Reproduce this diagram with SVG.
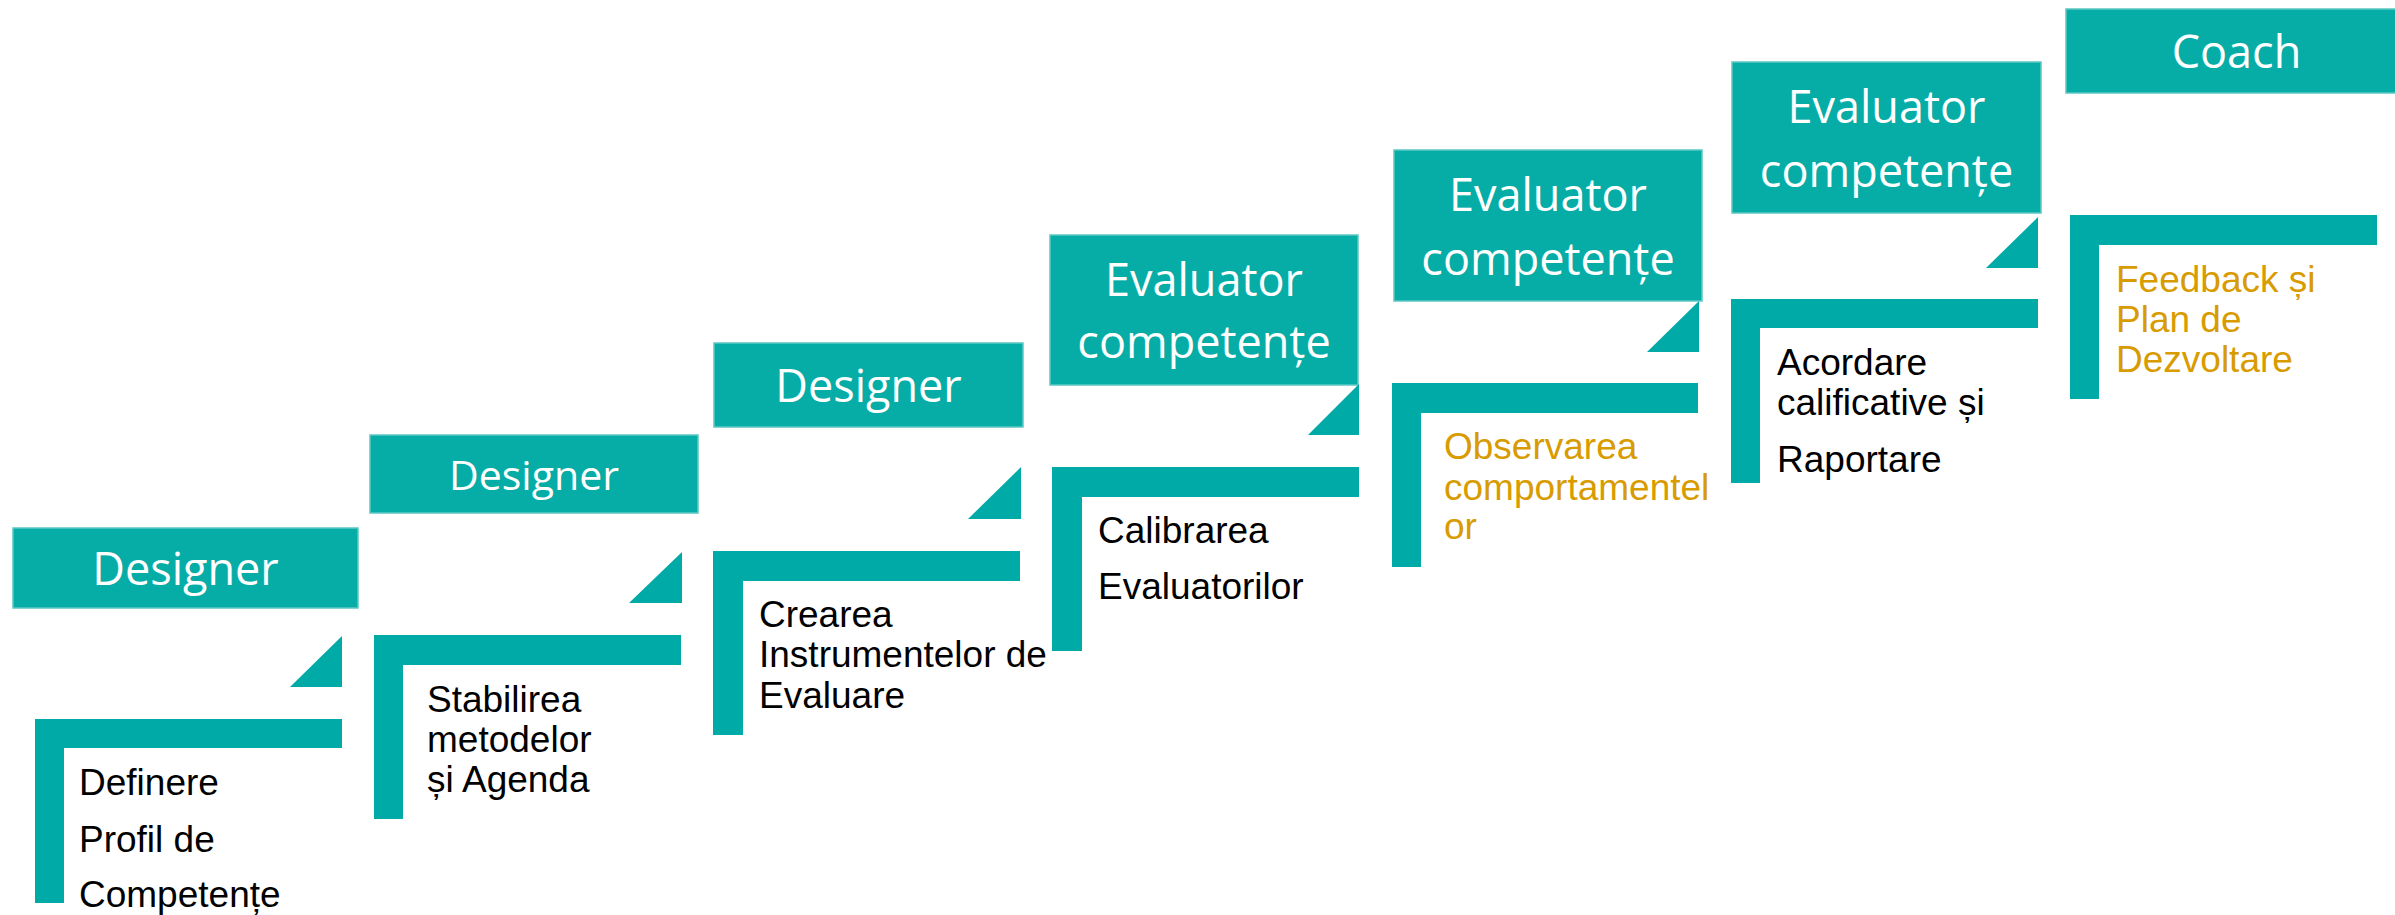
<svg xmlns="http://www.w3.org/2000/svg" width="2395" height="915" viewBox="0 0 2395 915">
<style>
.box{fill:#06ADA7;stroke:#5CC8C3;stroke-width:1.5}
.bar{fill:#00AAA6}
.tri{fill:#00AAA6}
.role{font-family:"Open Sans","Noto Sans",sans-serif;fill:#FFFFFF;text-anchor:middle}
.step{font-family:"Liberation Sans",Arial,sans-serif;font-size:37px;fill:#000000}
.hl{fill:#D89B00}
</style>
<rect width="2395" height="915" fill="#FFFFFF"/>
<g id="step1">
<rect class="box" x="13" y="528" width="345" height="80"/>
<text class="role" x="185.5" y="585" font-size="45">Designer</text>
<path class="tri" d="M290,687 L342,636 L342,687 Z"/>
<path class="bar" d="M35,719 H342 V748 H64 V903 H35 Z"/>
<text class="step" x="79" y="795">Definere</text>
<text class="step" x="79" y="852">Profil de</text>
<text class="step" x="79" y="907">Competențe</text>
</g>
<g id="step2">
<rect class="box" x="370" y="435" width="328" height="78"/>
<text class="role" x="534" y="490" font-size="41">Designer</text>
<path class="tri" d="M629,603 L682,552 L682,603 Z"/>
<path class="bar" d="M374,635 H681 V665 H403 V819 H374 Z"/>
<text class="step" x="427" y="712">Stabilirea</text>
<text class="step" x="427" y="752">metodelor</text>
<text class="step" x="427" y="792">și Agenda</text>
</g>
<g id="step3">
<rect class="box" x="714" y="343" width="309" height="84"/>
<text class="role" x="868.5" y="402" font-size="45">Designer</text>
<path class="tri" d="M968,519 L1021,467 L1021,519 Z"/>
<path class="bar" d="M713,551 H1020 V581 H743 V735 H713 Z"/>
<text class="step" x="759" y="627">Crearea</text>
<text class="step" x="759" y="667">Instrumentelor de</text>
<text class="step" x="759" y="708">Evaluare</text>
</g>
<g id="step4">
<rect class="box" x="1050" y="235" width="308" height="150"/>
<text class="role" x="1204" y="296" font-size="45">Evaluator</text>
<text class="role" x="1204" y="358" font-size="45">competențe</text>
<path class="tri" d="M1308,435 L1359,384 L1359,435 Z"/>
<path class="bar" d="M1052,467 H1359 V497 H1082 V651 H1052 Z"/>
<text class="step" x="1098" y="543">Calibrarea</text>
<text class="step" x="1098" y="599">Evaluatorilor</text>
</g>
<g id="step5">
<rect class="box" x="1394" y="150" width="308" height="151"/>
<text class="role" x="1548" y="211" font-size="45">Evaluator</text>
<text class="role" x="1548" y="275" font-size="45">competențe</text>
<path class="tri" d="M1647,352 L1699,301 L1699,352 Z"/>
<path class="bar" d="M1392,383 H1698 V413 H1421 V567 H1392 Z"/>
<text class="step hl" x="1444" y="459">Observarea</text>
<text class="step hl" x="1444" y="500">comportamentel</text>
<text class="step hl" x="1444" y="539">or</text>
</g>
<g id="step6">
<rect class="box" x="1732" y="62" width="309" height="151"/>
<text class="role" x="1886.5" y="123" font-size="45">Evaluator</text>
<text class="role" x="1886.5" y="187" font-size="45">competențe</text>
<path class="tri" d="M1986,268 L2038,217 L2038,268 Z"/>
<path class="bar" d="M1731,299 H2038 V328 H1760 V483 H1731 Z"/>
<text class="step" x="1777" y="375">Acordare</text>
<text class="step" x="1777" y="415">calificative și</text>
<text class="step" x="1777" y="472">Raportare</text>
</g>
<g id="step7">
<rect class="box" x="2066" y="9" width="340" height="84"/>
<text class="role" x="2236.5" y="68" font-size="45">Coach</text>
<path class="bar" d="M2070,215 H2377 V245 H2099 V399 H2070 Z"/>
<text class="step hl" x="2116" y="292">Feedback și</text>
<text class="step hl" x="2116" y="332">Plan de</text>
<text class="step hl" x="2116" y="372">Dezvoltare</text>
</g>
<g id="connectors"></g>
</svg>
